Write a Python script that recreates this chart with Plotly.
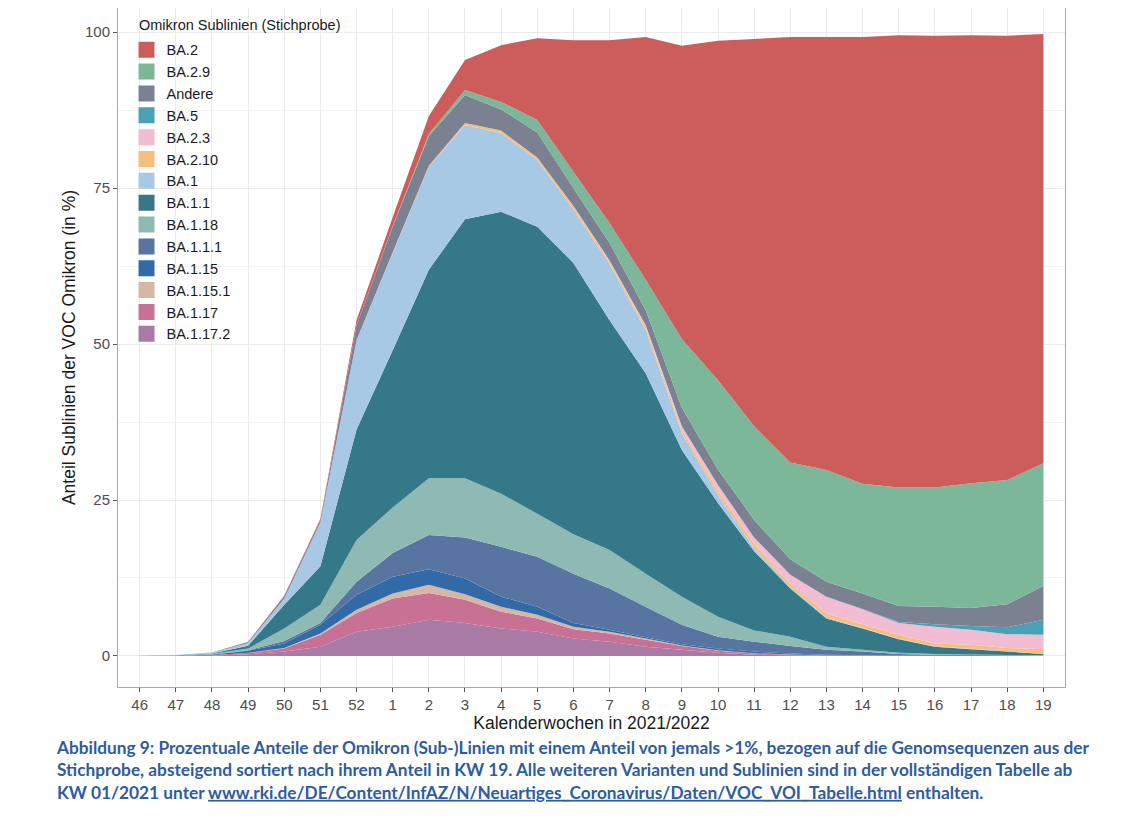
import plotly.graph_objects as go

weeks = ["46", "47", "48", "49", "50", "51", "52", "1", "2", "3", "4", "5", "6",
         "7", "8", "9", "10", "11", "12", "13", "14", "15", "16", "17", "18", "19"]

# Anteile in % je Kalenderwoche (von unten nach oben gestapelt)
ba_1_17_2 = [0.005, 0.01, 0.05, 0.27, 0.7, 1.5, 3.9, 4.7, 5.8, 5.3, 4.4, 3.9, 2.8,
             2.3, 1.5, 1.0, 0.5, 0.2, 0.1, 0.05, 0.03, 0.02, 0.01, 0.01, 0.01, 0.01]
ba_1_17 = [0.005, 0.01, 0.05, 0.23, 0.5, 1.9, 3.0, 4.5, 4.3, 3.7, 2.7, 2.1, 1.5,
           1.3, 1.1, 0.6, 0.35, 0.2, 0.1, 0.05, 0.02, 0.01, 0.01, 0.01, 0.01, 0.01]
ba_1_15_1 = [0, 0, 0.01, 0.03, 0.1, 0.2, 0.5, 0.8, 1.3, 0.9, 0.8, 0.6, 0.4,
             0.3, 0.2, 0.1, 0.05, 0.03, 0.02, 0.01, 0.01, 0.01, 0, 0, 0, 0]
ba_1_15 = [0.005, 0.02, 0.09, 0.32, 0.7, 1.4, 2.4, 2.7, 2.5, 2.5, 1.6, 1.3, 0.6,
           0.3, 0.2, 0.2, 0.3, 0.27, 0.18, 0.09, 0.04, 0.02, 0.02, 0.01, 0.01, 0.01]
ba_1_1_1 = [0, 0.01, 0.02, 0.05, 0.4, 0.3, 2.1, 3.8, 5.5, 6.6, 8.0, 8.0, 7.9,
            6.6, 4.9, 3.1, 1.9, 1.6, 1.2, 0.8, 0.6, 0.24, 0.16, 0.12, 0.07, 0.02]
ba_1_18 = [0.005, 0.02, 0.08, 0.3, 2.0, 2.9, 6.7, 7.3, 9.1, 9.5, 8.5, 6.9, 6.3,
           6.2, 5.3, 4.5, 3.2, 1.8, 1.5, 0.5, 0.3, 0.2, 0.1, 0.1, 0.05, 0.05]
ba_1_1 = [0.01, 0.04, 0.1, 0.45, 3.8, 6.2, 17.7, 25.2, 33.4, 41.5, 45.2, 46.0, 43.5,
          36.8, 32.1, 23.5, 18.2, 12.7, 7.7, 4.5, 3.4, 2.2, 1.2, 0.85, 0.55, 0.2]
ba_1 = [0.01, 0.03, 0.1, 0.45, 1.0, 7.0, 14.3, 15.6, 16.5, 15.1, 12.6, 10.7, 8.5,
        9.0, 6.9, 2.7, 1.3, 0.5, 0.3, 0.15, 0.1, 0.05, 0.05, 0.05, 0.05, 0.05]
ba_2_10 = [0, 0, 0, 0, 0, 0, 0.05, 0.1, 0.15, 0.3, 0.4, 0.4, 0.5,
           0.4, 0.5, 0.5, 0.7, 0.7, 0.5, 0.65, 0.6, 0.65, 0.45, 0.65, 0.55, 0.75]
ba_2_3 = [0, 0, 0, 0, 0, 0, 0, 0, 0, 0, 0, 0, 0.1,
          0.2, 0.3, 0.6, 0.9, 1.0, 1.4, 2.7, 2.4, 1.9, 2.7, 2.4, 2.2, 2.3]
ba_5 = [0, 0, 0, 0, 0, 0, 0, 0, 0, 0, 0, 0, 0,
        0, 0, 0, 0, 0, 0, 0, 0.05, 0.15, 0.4, 0.6, 1.1, 2.4]
andere = [0.01, 0.01, 0.05, 0.15, 0.4, 0.4, 2.35, 4.1, 4.8, 4.5, 3.4, 4.0, 2.9,
          2.8, 2.4, 3.0, 2.5, 2.8, 2.5, 2.4, 2.45, 2.55, 2.8, 2.9, 3.7, 5.4]
ba_2_9 = [0, 0, 0, 0, 0, 0, 0.05, 0.1, 0.3, 0.8, 1.2, 2.0, 2.6,
          3.2, 4.9, 11.0, 14.3, 15.0, 15.5, 17.9, 17.6, 19.0, 19.1, 20.0, 19.9, 19.7]
ba_2 = [0, 0, 0, 0.05, 0.1, 0.2, 0.8, 1.4, 2.9, 4.8, 9.1, 13.1, 21.1,
        29.3, 38.9, 47.0, 54.4, 62.1, 68.2, 69.4, 71.6, 72.5, 72.4, 71.8, 71.2, 68.8]

# Reihenfolge von unten nach oben
series = [
    ("BA.1.17.2", ba_1_17_2, "#a97aa5"),
    ("BA.1.17", ba_1_17, "#c87194"),
    ("BA.1.15.1", ba_1_15_1, "#d7b6a6"),
    ("BA.1.15", ba_1_15, "#316aa7"),
    ("BA.1.1.1", ba_1_1_1, "#5875a2"),
    ("BA.1.18", ba_1_18, "#8fbab3"),
    ("BA.1.1", ba_1_1, "#357989"),
    ("BA.1", ba_1, "#a8c9e6"),
    ("BA.2.10", ba_2_10, "#f5c07e"),
    ("BA.2.3", ba_2_3, "#f2bdd3"),
    ("BA.5", ba_5, "#4aa0b4"),
    ("Andere", andere, "#7b8191"),
    ("BA.2.9", ba_2_9, "#7db79a"),
    ("BA.2", ba_2, "#cd5d5b"),
]

FONT = "Arial"

fig = go.Figure()
for name, vals, col in series:
    fig.add_trace(go.Scatter(x=weeks, y=vals, name=name, stackgroup="one",
                             mode="none", fillcolor=col, line=dict(width=0),
                             showlegend=False, hoverinfo="x+y+name"))

# Legende mit quadratischen Feldern, BA.2 oben
for name, vals, col in reversed(series):
    fig.add_trace(go.Scatter(x=[None], y=[None], name=name, mode="markers",
                             marker=dict(symbol="square", size=18, color=col)))

grid = "#ebebeb"
fig.update_xaxes(type="category", range=[-0.6, 25.6], showgrid=True, gridcolor=grid,
                 gridwidth=1, ticks="outside", ticklen=4, tickcolor="#555555",
                 tickfont=dict(family=FONT, size=15, color="#4d4d4d"),
                 showline=True, mirror=True, linecolor="#a8a8a8", linewidth=1,
                 title=dict(text="Kalenderwochen in 2021/2022",
                            font=dict(family=FONT, size=17.5, color="#1a1a1a"), standoff=4))
fig.update_yaxes(range=[-4.97, 103.85], tickvals=[0, 25, 50, 75, 100], showgrid=True,
                 gridcolor=grid, gridwidth=1, zeroline=False,
                 minor=dict(tick0=0, dtick=12.5, showgrid=True, gridcolor="#f4f4f4",
                            gridwidth=1),
                 ticks="outside", ticklen=4, tickcolor="#555555",
                 tickfont=dict(family=FONT, size=15, color="#4d4d4d"),
                 showline=True, mirror=True, linecolor="#a8a8a8", linewidth=1,
                 title=dict(text="Anteil Sublinien der VOC Omikron (in %)",
                            font=dict(family=FONT, size=17.5, color="#1a1a1a"), standoff=4))

fig.add_annotation(text="Omikron Sublinien (Stichprobe)", xref="paper", yref="paper",
                   x=0.020, y=0.975, xanchor="left", yanchor="middle", showarrow=False,
                   font=dict(family=FONT, size=14.5, color="#1a1a1a"))

caption = ("Abbildung 9: Prozentuale Anteile der Omikron (Sub-)Linien mit einem Anteil von jemals &gt;1%, "
           "bezogen auf die Genomsequenzen aus der<br>Stichprobe, absteigend sortiert nach ihrem Anteil in KW 19. "
           "Alle weiteren Varianten und Sublinien sind in der vollständigen Tabelle ab<br>KW 01/2021 unter "
           "<span style='text-decoration:underline'>www.rki.de/DE/Content/InfAZ/N/Neuartiges_Coronavirus/Daten/VOC_VOI_Tabelle.html</span>"
           " enthalten.")
fig.add_annotation(text="<b>" + caption + "</b>", xref="paper", yref="paper",
                   x=-0.0675, y=-0.0707, xanchor="left", yanchor="top", align="left",
                   showarrow=False, font=dict(family="Lato", size=17.25, color="#2d5c9f"))

fig.update_layout(
    width=1125, height=825,
    margin=dict(l=110, r=68, t=0, b=146),
    paper_bgcolor="white", plot_bgcolor="white",
    font=dict(family=FONT),
    legend=dict(x=0.009, y=0.962, xanchor="left", yanchor="top", traceorder="normal",
                bgcolor="rgba(0,0,0,0)", tracegroupgap=0,
                font=dict(family=FONT, size=14.5, color="#1a1a1a"), itemwidth=30),
)

fig.write_html("out.html")
